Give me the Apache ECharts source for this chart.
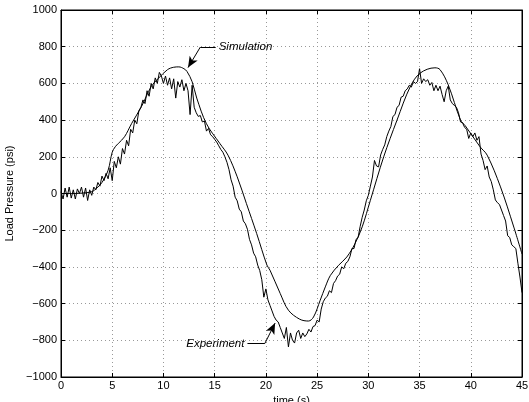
<!DOCTYPE html>
<html><head><meta charset="utf-8">
<script src="https://cdn.jsdelivr.net/npm/echarts@6/dist/echarts.min.js"></script>
<style>html,body{margin:0;padding:0;background:#fff}#c{width:529px;height:402px}</style>
</head><body><div id="c"></div>
<script>
// Simulation (smooth) curve: [time s, psi]
const simTime = [0,1,2,3,3.5,4,4.6,5.0,5.3,5.6,6.2,6.9,7.85,8.8,9.5,10.4,11.0,11.5,12.0,12.3,12.8,13.25,14.2,15.5,16.3,17.2,18.1,19.1,20.1,20.4,21.4,22.2,23.3,24.15,24.65,25.3,25.8,26.3,27.1,27.9,28.7,29.4,30.2,31.5,32.8,34.1,35.06,36.5,37.0,37.8,39.0,39.45,40.9,41.6,42.9,44.2,45];
const simPsi = [0,0,2,10,30,60,127,225,255,273,309,382,473,582,627,675,688,690,680,665,609,520,380,273,209,91,-55,-218,-390,-418,-545,-636,-685,-695,-673,-582,-509,-446,-391,-346,-273,-182,-37,200,400,583,656,685,675,592,400,370,255,209,36,-183,-330];

// Experiment (noisy) curve sampled every 0.2 s from 0 to 45 s
const expStart = 0, expStep = 0.2;
const expPsi = [
 10,-30,30,-20,35,-25,20,-30,25,0,
 35,-20,30,-38,20,-10,35,20,60,40,
 95,70,110,80,140,70,175,140,200,160,
 245,215,290,260,350,330,400,380,450,470,
 510,490,560,530,600,570,630,600,660,640,
 600,640,590,630,570,625,520,610,580,620,
 560,600,560,430,590,470,440,420,425,390,
 395,340,355,320,310,295,280,260,240,225,
 200,170,130,75,40,-20,-40,-85,-100,-150,
 -165,-195,-250,-280,-325,-345,-390,-420,-470,-565,
 -520,-580,-610,-640,-670,-690,-700,-730,-760,-790,
 -730,-836,-760,-800,-815,-760,-745,-790,-760,-780,
 -765,-740,-755,-725,-720,-690,-700,-630,-590,-570,
 -560,-530,-540,-490,-475,-450,-440,-400,-410,-380,
 -370,-345,-300,-300,-250,-240,-180,-130,-90,-40,
 -10,40,90,180,150,145,210,240,265,310,
 340,365,420,430,470,480,525,530,560,570,
 590,580,610,600,610,680,600,625,610,620,
 590,605,560,590,560,585,540,500,560,585,
 510,490,480,470,440,390,385,360,350,300,
 330,310,330,290,310,215,180,130,150,90,
 65,20,-35,-50,-60,-90,-120,-150,-230,-240,
 -280,-290,-300,-380,-455,-540
];

// Axis setup
const xMin = 0, xMax = 45, xStep = 5;
const yMin = -1000, yMax = 1000, yStep = 200;
const xName = 'time (s)';
const yName = 'Load Pressure (psi)';

// Annotations: label text, label anchor [t, psi], elbow [t, psi], arrow tip [t, psi]
const simNote = { text: 'Simulation', anchor: [15.1, 798], elbow: [13.6, 798], tip: [12.4, 686] };
const expNote = { text: 'Experiment', anchor: [18.2, -817], elbow: [19.9, -817], tip: [20.9, -706] };

const simData = simTime.map((t, i) => [t, simPsi[i]]);
const expData = expPsi.map((v, i) => [+(expStart + i * expStep).toFixed(2), v]);

const FONT = 'Liberation Sans, Arial, sans-serif';
const fmt = v => String(v).replace('-', '\u2212');

function noteMarks(n, side) {
  return {
    markLine: {
      silent: true, animation: false,
      lineStyle: { color: '#000', width: 1, type: 'solid' },
      label: { show: false },
      emphasis: { disabled: true },
      data: [
        [{ coord: n.anchor, symbol: 'none' }, { coord: n.elbow, symbol: 'none' }],
        [{ coord: n.elbow, symbol: 'none' }, { coord: n.tip, symbol: 'arrow', symbolSize: [7, 11] }]
      ]
    },
    markPoint: {
      silent: true, animation: false,
      symbol: 'circle', symbolSize: 0,
      data: [{ coord: n.anchor, label: {
        show: true, formatter: n.text, position: side, distance: 3,
        fontStyle: 'italic', fontSize: 11.5, color: '#000', fontFamily: FONT } }]
    }
  };
}

const chart = echarts.init(document.getElementById('c'), null, { renderer: 'canvas' });
const gridLine = { show: true, lineStyle: { color: '#999', type: [1, 3], width: 1 } };
chart.setOption({
  animation: false,
  backgroundColor: '#fff',
  grid: { left: 61, right: 7, top: 10, bottom: 25, containLabel: false, outerBoundsMode: 'none',
          show: true, borderColor: '#000', borderWidth: 1 },
  xAxis: [{
    type: 'value', min: xMin, max: xMax, interval: xStep,
    name: xName, nameLocation: 'middle', nameGap: 15,
    nameTextStyle: { fontFamily: FONT, fontSize: 11, color: '#000' },
    axisLine: { onZero: false, lineStyle: { color: '#000' } },
    axisTick: { inside: true, length: 4, lineStyle: { color: '#000' } },
    axisLabel: { fontFamily: FONT, fontSize: 11, color: '#000', margin: 3, formatter: fmt },
    splitLine: gridLine
  }, {
    type: 'value', min: xMin, max: xMax, interval: xStep, position: 'top',
    axisLine: { onZero: false, lineStyle: { color: '#000' } },
    axisTick: { inside: true, length: 4, lineStyle: { color: '#000' } },
    axisLabel: { show: false }, splitLine: { show: false }
  }],
  yAxis: [{
    type: 'value', min: yMin, max: yMax, interval: yStep,
    name: yName, nameLocation: 'middle', nameGap: 42,
    nameTextStyle: { fontFamily: FONT, fontSize: 11, color: '#000' },
    axisLine: { show: true, onZero: false, lineStyle: { color: '#000' } },
    axisTick: { show: true, inside: true, length: 4, lineStyle: { color: '#000' } },
    axisLabel: { fontFamily: FONT, fontSize: 11, color: '#000', margin: 4, formatter: fmt },
    splitLine: gridLine
  }, {
    type: 'value', min: yMin, max: yMax, interval: yStep, position: 'right',
    axisLine: { show: true, onZero: false, lineStyle: { color: '#000' } },
    axisTick: { show: true, inside: true, length: 4, lineStyle: { color: '#000' } },
    axisLabel: { show: false }, splitLine: { show: false }
  }],
  series: [
    Object.assign({
      name: 'Simulation', type: 'line', data: simData, smooth: 0.35, showSymbol: false,
      lineStyle: { color: '#000', width: 1 }, z: 3
    }, noteMarks(simNote, 'right')),
    Object.assign({
      name: 'Experiment', type: 'line', data: expData, showSymbol: false,
      lineStyle: { color: '#000', width: 1 }, z: 2
    }, noteMarks(expNote, 'left'))
  ]
});
</script></body></html>
